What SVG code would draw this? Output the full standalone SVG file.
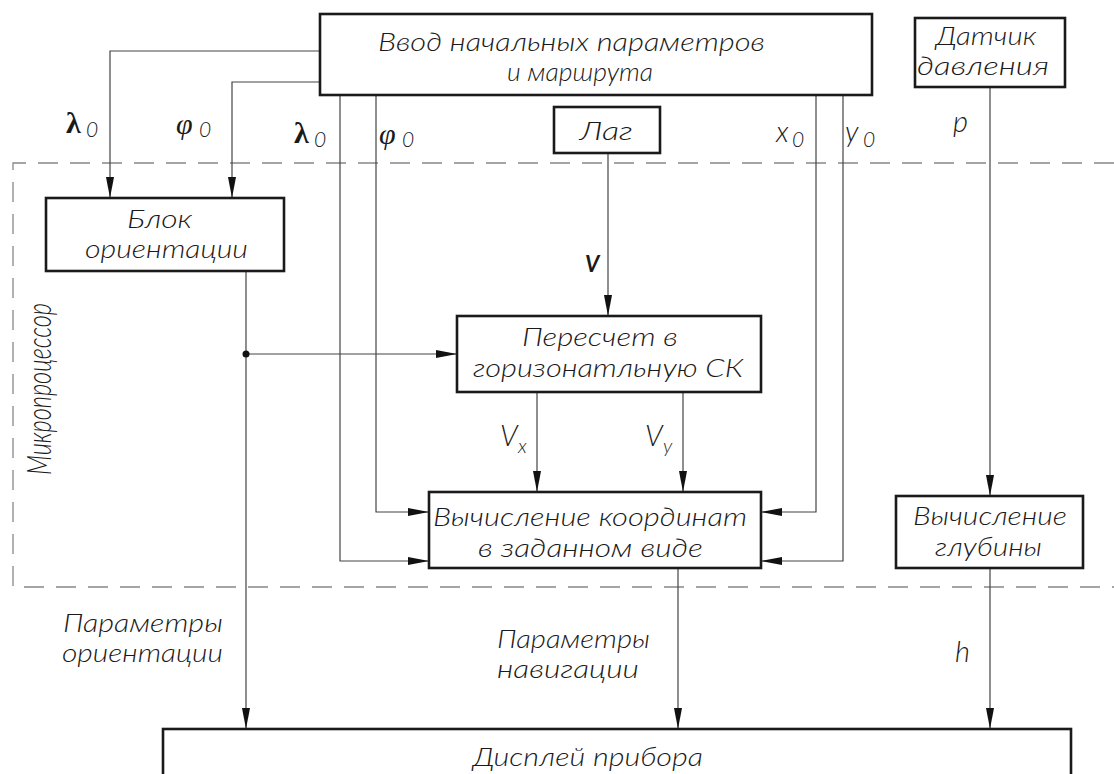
<svg xmlns="http://www.w3.org/2000/svg" width="1114" height="774" viewBox="0 0 1114 774">
<style>
.box{fill:#fff;stroke:#1a1a1a;stroke-width:2.6}
.ln{fill:none;stroke:#444;stroke-width:1.2}
.dash{fill:none;stroke:#888;stroke-width:1.3;stroke-dasharray:20 12}
.t{font-family:Lato,"Liberation Sans",Arial,sans-serif;font-weight:300;font-style:italic;font-size:25px;fill:#1a1a1a}
.gr{font-family:"Liberation Serif","Times New Roman",serif;font-size:30px;fill:#1a1a1a}
.sub{font-family:Lato,"Liberation Sans",Arial,sans-serif;font-weight:300;font-style:italic;font-size:21px;fill:#1a1a1a}
.sym{font-family:Lato,"Liberation Sans",Arial,sans-serif;font-weight:300;font-style:italic;font-size:29px;fill:#1a1a1a}
</style>
<defs>
<marker id="arr" markerUnits="userSpaceOnUse" markerWidth="22" markerHeight="10" refX="21" refY="4" orient="auto">
<path d="M0,0 L21,4 L0,8 Z" fill="#111"/>
</marker>
</defs>
<rect width="1114" height="774" fill="#fff"/>

<g id="microprocessor">
<path class="dash" d="M1114,163 H13 V587 H1114"/>
<text class="t" transform="translate(51,475) rotate(-90)" x="0" y="0" style="font-size:33px" textLength="172" lengthAdjust="spacingAndGlyphs">Микропроцессор</text>
</g>

<g id="connectors">
<path class="ln" d="M320,51 H110 V198" marker-end="url(#arr)"/>
<path class="ln" d="M320,82 H232 V198" marker-end="url(#arr)"/>
<path class="ln" d="M340,95 V561 H429" marker-end="url(#arr)"/>
<path class="ln" d="M376,95 V512 H429" marker-end="url(#arr)"/>
<path class="ln" d="M816,95 V512 H761" marker-end="url(#arr)"/>
<path class="ln" d="M843,95 V561 H761" marker-end="url(#arr)"/>
<path class="ln" d="M608,153 V316" marker-end="url(#arr)"/>
<path class="ln" d="M990,87 V496" marker-end="url(#arr)"/>
<path class="ln" d="M246,271 V729" marker-end="url(#arr)"/>
<path class="ln" d="M246,354 H457" marker-end="url(#arr)"/>
<circle cx="246" cy="354" r="3.5" fill="#111"/>
<path class="ln" d="M537,392 V492" marker-end="url(#arr)"/>
<path class="ln" d="M683,392 V492" marker-end="url(#arr)"/>
<path class="ln" d="M678,568 V729" marker-end="url(#arr)"/>
<path class="ln" d="M990,568 V729" marker-end="url(#arr)"/>
</g>

<g id="labels">
<text class="gr" x="66" y="133" style="font-weight:bold">λ</text><text class="sub" x="86" y="137">0</text>
<text class="gr" x="176" y="134" style="font-style:italic">φ</text><text class="sub" x="199" y="137">0</text>
<text class="gr" x="294" y="143" style="font-weight:bold">λ</text><text class="sub" x="314" y="147">0</text>
<text class="gr" x="379" y="144" style="font-style:italic">φ</text><text class="sub" x="402" y="147">0</text>
<text class="sym" x="776" y="142">x</text><text class="sub" x="792" y="147">0</text>
<text class="sym" x="845" y="142">y</text><text class="sub" x="863" y="147">0</text>
<text class="sym" x="953" y="132">p</text>
<text class="sym" x="585" y="272" style="font-weight:bold;font-size:22px">V</text>
<text class="sym" x="500" y="446">V</text><text class="sub" x="518" y="453" style="font-size:20px">x</text>
<text class="sym" x="645" y="446">V</text><text class="sub" x="663" y="453" style="font-size:20px">y</text>
<text class="sym" x="955" y="662">h</text>
<text class="t" x="63" y="632" textLength="160" lengthAdjust="spacingAndGlyphs">Параметры</text>
<text class="t" x="62" y="662" textLength="161" lengthAdjust="spacingAndGlyphs">ориентации</text>
<text class="t" x="497" y="648" textLength="153" lengthAdjust="spacingAndGlyphs">Параметры</text>
<text class="t" x="497" y="678" textLength="142" lengthAdjust="spacingAndGlyphs">навигации</text>
</g>

<g id="node-input">
<rect class="box" x="320" y="14" width="552" height="81"/>
<text class="t" x="378" y="51" textLength="387" lengthAdjust="spacingAndGlyphs">Ввод начальных параметров</text>
<text class="t" x="507" y="81" textLength="146" lengthAdjust="spacingAndGlyphs">и маршрута</text>
</g>

<g id="node-sensor">
<rect class="box" x="915" y="18" width="150" height="69"/>
<text class="t" x="936" y="45" textLength="100" lengthAdjust="spacingAndGlyphs">Датчик</text>
<text class="t" x="917" y="75" textLength="132" lengthAdjust="spacingAndGlyphs">давления</text>
</g>

<g id="node-lag">
<rect class="box" x="554" y="107" width="106" height="46"/>
<text class="t" x="580" y="140" textLength="53" lengthAdjust="spacingAndGlyphs">Лаг</text>
</g>

<g id="node-orient">
<rect class="box" x="46" y="198" width="238" height="73"/>
<text class="t" x="127" y="228" textLength="65" lengthAdjust="spacingAndGlyphs">Блок</text>
<text class="t" x="85" y="258" textLength="163" lengthAdjust="spacingAndGlyphs">ориентации</text>
</g>

<g id="node-recalc">
<rect class="box" x="457" y="316" width="304" height="76"/>
<text class="t" x="522" y="346" textLength="156" lengthAdjust="spacingAndGlyphs">Пересчет в</text>
<text class="t" x="473" y="377" textLength="270" lengthAdjust="spacingAndGlyphs">горизонатльную СК</text>
</g>

<g id="node-coords">
<rect class="box" x="429" y="492" width="332" height="76"/>
<text class="t" x="433" y="526" textLength="314" lengthAdjust="spacingAndGlyphs">Вычисление координат</text>
<text class="t" x="478" y="557" textLength="225" lengthAdjust="spacingAndGlyphs">в заданном виде</text>
</g>

<g id="node-depth">
<rect class="box" x="896" y="496" width="187" height="72"/>
<text class="t" x="913" y="525" textLength="154" lengthAdjust="spacingAndGlyphs">Вычисление</text>
<text class="t" x="935" y="556" textLength="107" lengthAdjust="spacingAndGlyphs">глубины</text>
</g>

<g id="node-display">
<rect class="box" x="163" y="729" width="908" height="60"/>
<text class="t" x="473" y="766" textLength="230" lengthAdjust="spacingAndGlyphs">Дисплей прибора</text>
</g>
</svg>
